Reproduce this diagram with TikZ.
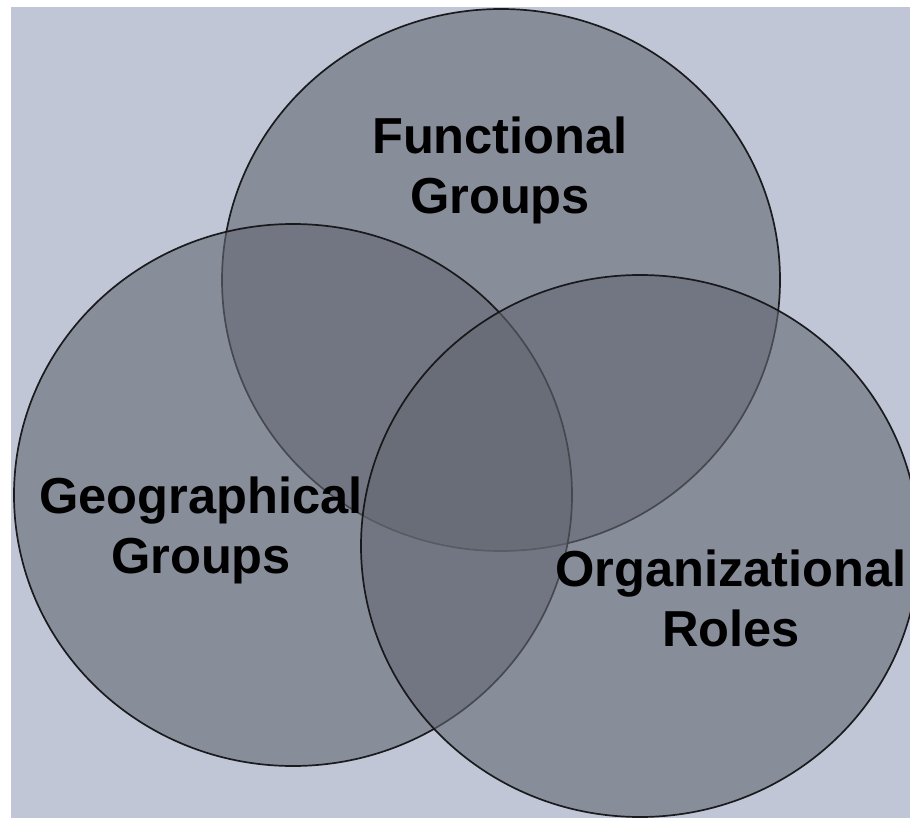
\documentclass[tikz,border=0pt]{standalone}
\usepackage{fontspec}
\setmainfont{Liberation Sans}
\usetikzlibrary{shapes.geometric}
\definecolor{bgblue}{RGB}{192,198,214}
\definecolor{vennfill}{RGB}{100,104,114}
\definecolor{vennline}{RGB}{20,20,22}
\tikzset{
  venn/.style={ellipse, inner sep=0pt, minimum width=558pt, minimum height=542pt,
    fill=vennfill, fill opacity=0.6, draw=vennline, draw opacity=0.95, line width=1.7pt},
  vlabel/.style={align=center, inner sep=0pt, text=black,
    font=\fontsize{50.6}{60}\selectfont\bfseries}
}
\begin{document}
\begin{tikzpicture}[x=1pt,y=-1pt]
\useasboundingbox (0,0) rectangle (910,818);
\fill[white] (0,0) rectangle (910,818);
\fill[bgblue] (11,7) rectangle (910,818);
\begin{scope}
\clip (0,0) rectangle (910,818);
\node[venn] (func) at (501,280) {};
\node[venn] (geo) at (293,495) {};
\node[venn] (org) at (640,546) {};
\end{scope}
\node[vlabel] (funclbl) at (500,170) {Functional\\Groups};
\node[vlabel] (geolbl) at (201,530) {Geographical\\Groups};
\node[vlabel] (orglbl) at (731,598) {Organizational\\Roles};
\end{tikzpicture}
\end{document}
